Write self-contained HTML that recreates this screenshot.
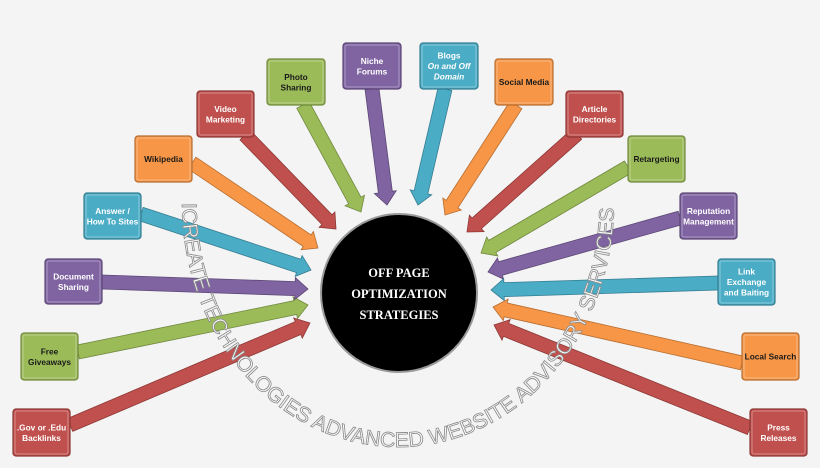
<!DOCTYPE html>
<html><head><meta charset="utf-8"><style>
html,body{margin:0;padding:0;background:#f4f4f4;}
svg{display:block;}
.l{font-family:"Liberation Sans",sans-serif;font-size:8.3px;font-weight:bold;text-anchor:middle;}
</style></head><body>
<svg id="s" width="820" height="468" viewBox="0 0 820 468" xmlns="http://www.w3.org/2000/svg">
<rect width="820" height="468" fill="#f4f4f4"/>
<g id="arrows"></g>
<defs><path id="arc" d="M 182,203 A 216,244 0 0 0 614,203"/></defs>
<text font-family="Liberation Sans,sans-serif" font-size="21" fill="#fafafa" stroke="#8a8a8a" stroke-width="0.8"><textPath href="#arc" textLength="718" lengthAdjust="spacingAndGlyphs">ICREATE TECHNOLOGIES ADVANCED WEBSITE ADVISORY SERVICES</textPath></text>
<ellipse cx="399" cy="293" rx="78" ry="79" fill="#000" stroke="#999" stroke-width="2"/>
<g font-family="Liberation Serif,serif" font-weight="bold" font-size="12.5" fill="#fff" text-anchor="middle">
<text x="399" y="277">OFF PAGE</text>
<text x="399" y="298">OPTIMIZATION</text>
<text x="399" y="319">STRATEGIES</text>
</g>
<g id="boxes"></g>
</svg>
<script>
var C={r:"#c0504d",g:"#9bbb59",p:"#8064a2",c:"#4bacc6",o:"#f79646"};
var D={r:"#8c3836",g:"#71893f",p:"#5c4776",c:"#357d91",o:"#b66d31"};
var items=[
[13,409,57,47,"r",[".Gov or .Edu","Backlinks"],70,425,310,323],
[21,333,57,47,"g",["Free","Giveaways"],78,352,308,305],
[45,259,57,45,"p",["Document","Sharing"],102,282,308,289],
[84,193,57,46,"c",["Answer /","How To Sites"],141,214,311,270],
[135,136,57,46,"o",["Wikipedia"],192,163,318,248],
[197,91,57,46,"r",["Video","Marketing"],245,135,336,229],
[267,59,58,46,"g",["Photo","Sharing"],303,105,361,212],
[343,43,58,46,"p",["Niche","Forums"],372,89,387,205],
[420,43,58,46,"c",["Blogs","On and Off","Domain"],445,89,418,205],
[495,59,58,46,"o",["Social Media"],516,105,445,215],
[566,91,57,46,"r",["Article","Directories"],577,134,467,232],
[628,136,57,46,"g",["Retargeting"],628,167,481,253],
[680,193,57,46,"p",["Reputation","Management"],680,218,488,272],
[718,259,57,46,"c",["Link","Exchange","and Baiting"],718,283,491,290],
[742,333,57,47,"o",["Local Search"],742,363,493,307],
[750,409,57,47,"r",["Press","Releases"],750,428,494,325]];
var NS="http://www.w3.org/2000/svg";
var ag=document.getElementById("arrows"),bg=document.getElementById("boxes");
function el(t,a,p){var e=document.createElementNS(NS,t);for(var k in a)e.setAttribute(k,a[k]);p.appendChild(e);return e;}
items.forEach(function(it){
 var x1=it[6],y1=it[7],x2=it[8],y2=it[9];
 var dx=x2-x1,dy=y2-y1,L=Math.hypot(dx,dy),ux=dx/L,uy=dy/L,nx=-uy,ny=ux;
 var w=7,hw=11,hl=13;
 var bx=x2-ux*hl,by=y2-uy*hl;
 var pts=[[x1+nx*w,y1+ny*w],[bx+nx*w,by+ny*w],[bx+nx*hw,by+ny*hw],[x2,y2],[bx-nx*hw,by-ny*hw],[bx-nx*w,by-ny*w],[x1-nx*w,y1-ny*w]];
 el("polygon",{points:pts.map(function(p){return p[0].toFixed(1)+","+p[1].toFixed(1)}).join(" "),fill:C[it[4]],stroke:D[it[4]],"stroke-width":"0.8"},ag);
 el("rect",{x:it[0],y:it[1],width:it[2],height:it[3],rx:3,fill:C[it[4]],stroke:D[it[4]],"stroke-width":"1.2"},bg);
 el("rect",{x:it[0]+2,y:it[1]+2,width:it[2]-4,height:it[3]-4,rx:2,fill:"none",stroke:"rgba(255,255,255,0.35)","stroke-width":"1"},bg);
 var lines=it[5],n=lines.length,lh=10.5,cy=it[1]+it[3]/2-(n-1)*lh/2+3;
 var dark=(it[4]=="o"||it[4]=="g");
 lines.forEach(function(s,i){
  var t=el("text",{x:it[0]+it[2]/2,y:(cy+i*lh).toFixed(1),"class":"l",fill:dark?"#1a1a1a":"#fff"},bg);
  if(it[5][0]=="Blogs"&&i>0){t.setAttribute("font-style","italic");}
  t.textContent=s;
 });
});
</script>
</body></html>
